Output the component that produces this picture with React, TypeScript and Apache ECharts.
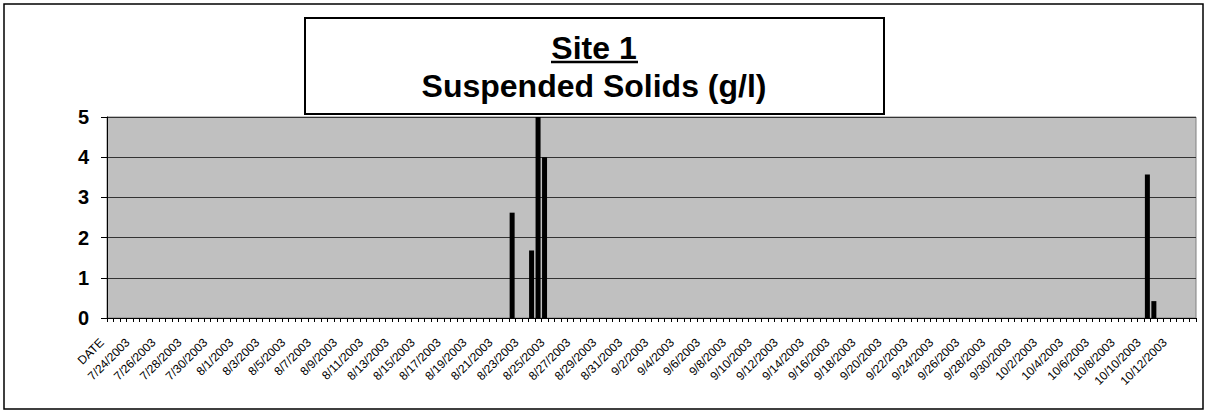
import React, { useEffect, useRef } from "react";
import * as echarts from "echarts";

// Axis labels shown every 4th category (two samples per date)
const tickLabels = [
  "DATE",
  "7/24/2003", "7/26/2003", "7/28/2003", "7/30/2003",
  "8/1/2003", "8/3/2003", "8/5/2003", "8/7/2003", "8/9/2003", "8/11/2003",
  "8/13/2003", "8/15/2003", "8/17/2003", "8/19/2003", "8/21/2003", "8/23/2003",
  "8/25/2003", "8/27/2003", "8/29/2003", "8/31/2003",
  "9/2/2003", "9/4/2003", "9/6/2003", "9/8/2003", "9/10/2003", "9/12/2003",
  "9/14/2003", "9/16/2003", "9/18/2003", "9/20/2003", "9/22/2003", "9/24/2003",
  "9/26/2003", "9/28/2003", "9/30/2003",
  "10/2/2003", "10/4/2003", "10/6/2003", "10/8/2003", "10/10/2003", "10/12/2003",
];
const categoriesPerLabel = 4;
const categoryCount = 168;

// Non-empty samples: category index and suspended solids (g/l)
const sampleIndex = [62, 65, 66, 67, 160, 161];
const sampleValues = [2.62, 1.68, 5.0, 4.0, 3.57, 0.42];

const yTicks = [0, 1, 2, 3, 4, 5];

const FONT = "'Liberation Sans', Arial, sans-serif";

export default function App() {
  const ref = useRef<HTMLDivElement>(null);

  useEffect(() => {
    if (!ref.current) return;
    const chart = echarts.init(ref.current, null, { renderer: "svg" });

    const categories: string[] = [];
    for (let i = 0; i < categoryCount; i++) {
      categories.push(
        i % categoriesPerLabel === 0 && tickLabels[i / categoriesPerLabel]
          ? tickLabels[i / categoriesPerLabel]
          : ""
      );
    }
    const data: (number | null)[] = categories.map(() => null);
    sampleIndex.forEach((idx, k) => {
      data[idx] = sampleValues[k];
    });

    chart.setOption({
      animation: false,
      backgroundColor: "#ffffff",
      grid: {
        left: 107,
        right: 11,
        top: 117,
        bottom: 95,
        show: true,
        backgroundColor: "#C0C0C0",
        borderColor: "#808080",
        borderWidth: 1,
      },
      xAxis: {
        type: "category",
        data: categories,
        boundaryGap: true,
        axisLine: { show: true, lineStyle: { color: "#000", width: 1 } },
        axisTick: {
          show: true,
          interval: 0,
          length: 4,
          alignWithLabel: false,
          lineStyle: { color: "#000" },
        },
        axisLabel: {
          interval: 0,
          rotate: 45,
          fontSize: 12,
          fontFamily: FONT,
          color: "#000",
          margin: 14,
          padding: [0, 12, 0, 0],
        },
        splitLine: { show: false },
      },
      yAxis: {
        type: "value",
        min: yTicks[0],
        max: yTicks[yTicks.length - 1],
        interval: 1,
        axisLine: { show: true, lineStyle: { color: "#000", width: 1 } },
        axisTick: { show: true, length: 6, lineStyle: { color: "#000" } },
        axisLabel: {
          fontSize: 20,
          fontWeight: "bold",
          fontFamily: FONT,
          color: "#000",
          margin: 18,
        },
        splitLine: { show: true, lineStyle: { color: "#333", width: 1 } },
      },
      series: [
        {
          type: "bar",
          data,
          barWidth: 5,
          itemStyle: { color: "#000" },
          clip: true,
        },
      ],
      graphic: [
        {
          type: "rect",
          shape: { x: 4, y: 4, width: 1199, height: 405 },
          style: { fill: "none", stroke: "#000", lineWidth: 1.5 },
          silent: true,
        },
        {
          type: "rect",
          shape: { x: 305, y: 18, width: 579, height: 96 },
          style: { fill: "#fff", stroke: "#000", lineWidth: 2 },
          silent: true,
        },
        {
          type: "text",
          x: 594,
          y: 32,
          style: {
            text: "Site 1",
            font: `bold 32px ${FONT}`,
            fill: "#000",
            textAlign: "center",
            textVerticalAlign: "top",
          },
          silent: true,
        },
        {
          type: "line",
          shape: { x1: 551, y1: 62, x2: 638, y2: 62 },
          style: { stroke: "#000", lineWidth: 2.5 },
          silent: true,
        },
        {
          type: "text",
          x: 594,
          y: 70,
          style: {
            text: "Suspended Solids (g/l)",
            font: `bold 32px ${FONT}`,
            fill: "#000",
            textAlign: "center",
            textVerticalAlign: "top",
          },
          silent: true,
        },
      ],
    });

    return () => chart.dispose();
  }, []);

  return (
    <div
      ref={ref}
      style={{ position: "fixed", left: 0, top: 0, width: 1207, height: 413 }}
    />
  );
}
